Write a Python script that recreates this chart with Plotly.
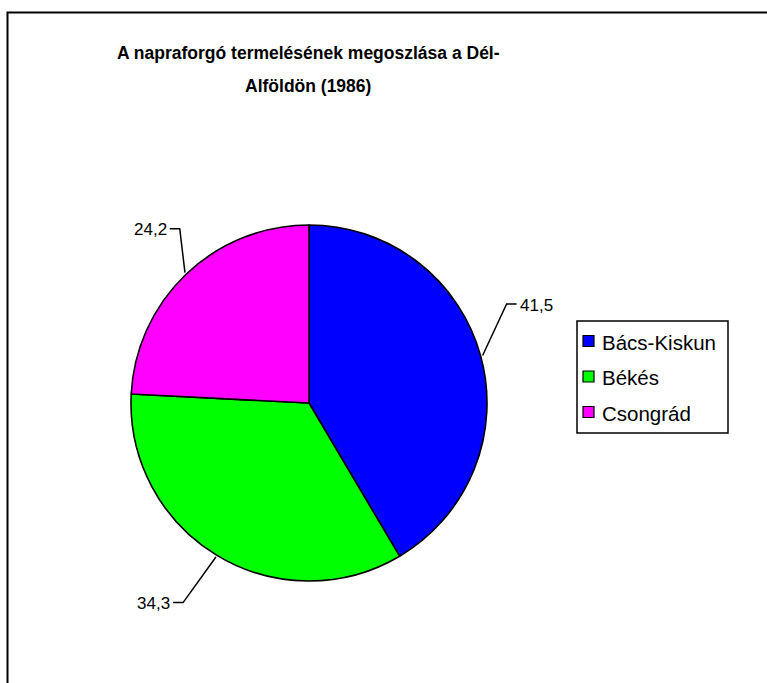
import math
import plotly.graph_objects as go

# Sunflower production share by county, South Great Plain (1986)
regions = ["Bács-Kiskun", "Békés", "Csongrád"]
shares = [41.5, 34.3, 24.2]
slice_colors = ["#0000FF", "#00FF00", "#FF00FF"]
title_lines = ["A napraforgó termelésének megoszlása a Dél-", "Alföldön (1986)"]

# ---- layout settings (pixels) ----
W, H = 767, 683
CX, CY, R = 309, 403, 178          # pie centre and radius
LEADER_R0 = 180                    # leader start radius
# per label: elbow angle offset from slice middle (deg), elbow radius
LABEL_ELBOW = [(-11.3, 221), (1.1, 236), (7.0, 217)]
TICK = 10                          # horizontal tick at the elbow
FONT = "Liberation Sans, Arial, sans-serif"


def px(x):
    return x / W


def py(y):
    return 1 - y / H


fig = go.Figure(
    go.Pie(
        labels=regions,
        values=shares,
        marker=dict(colors=slice_colors, line=dict(color="black", width=1.6)),
        sort=False,
        direction="clockwise",
        rotation=0,
        textinfo="none",
        hoverinfo="label+value",
        showlegend=False,
        domain=dict(x=[px(CX - R), px(CX + R)], y=[py(CY + R), py(CY - R)]),
    )
)

shapes = []
annotations = []

# data labels with elbow leader lines
total = sum(shares)
cum = 0.0
for val, (nudge, r1) in zip(shares, LABEL_ELBOW):
    mid = (cum + val / 2) / total * 360.0
    cum += val
    a0 = math.radians(mid)
    a1 = math.radians(mid + nudge)
    x0, y0 = CX + LEADER_R0 * math.sin(a0), CY - LEADER_R0 * math.cos(a0)
    x1, y1 = CX + r1 * math.sin(a1), CY - r1 * math.cos(a1)
    right = math.sin(a1) >= 0
    x2 = x1 + TICK if right else x1 - TICK
    shapes.append(dict(
        type="path", xref="paper", yref="paper",
        path=f"M {px(x0)},{py(y0)} L {px(x1)},{py(y1)} L {px(x2)},{py(y1)}",
        line=dict(color="black", width=1.5),
    ))
    annotations.append(dict(
        xref="paper", yref="paper",
        x=px(x2 + (1 if right else -1)), y=py(y1 + 1),
        xanchor="left" if right else "right", yanchor="middle",
        text=f"{val:.1f}".replace(".", ","),
        showarrow=False, font=dict(family=FONT, size=17, color="black"),
    ))

# title
for i, line in enumerate(title_lines):
    annotations.append(dict(
        xref="paper", yref="paper", x=px(308), y=py(53 + 33 * i),
        xanchor="center", yanchor="middle", text=f"<b>{line}</b>",
        showarrow=False, font=dict(family=FONT, size=17.5, color="black"),
    ))

# legend box
LX0, LY0, LX1, LY1 = 577, 321, 728, 433
shapes.append(dict(type="rect", xref="paper", yref="paper",
                   x0=px(LX0), x1=px(LX1), y0=py(LY1), y1=py(LY0),
                   line=dict(color="black", width=1.5), fillcolor="white"))
for i, (name, col) in enumerate(zip(regions, slice_colors)):
    yc = 341 + 35.5 * i
    shapes.append(dict(type="rect", xref="paper", yref="paper",
                       x0=px(583), x1=px(594), y0=py(yc + 5.5), y1=py(yc - 5.5),
                       line=dict(color="black", width=1.2), fillcolor=col))
    annotations.append(dict(
        xref="paper", yref="paper", x=px(600), y=py(yc + 1),
        xanchor="left", yanchor="middle", text=name, showarrow=False,
        font=dict(family=FONT, size=20.5, color="black"),
    ))

# outer chart frame (runs past the right and bottom edges)
shapes.append(dict(type="rect", xref="paper", yref="paper",
                   x0=px(7.5), x1=px(W + 10), y0=py(H + 10), y1=py(12.5),
                   line=dict(color="black", width=2)))

fig.update_layout(
    width=W, height=H,
    margin=dict(l=0, r=0, t=0, b=0),
    paper_bgcolor="white", plot_bgcolor="white",
    shapes=shapes, annotations=annotations,
    showlegend=False,
)

fig.write_html("out.html")
